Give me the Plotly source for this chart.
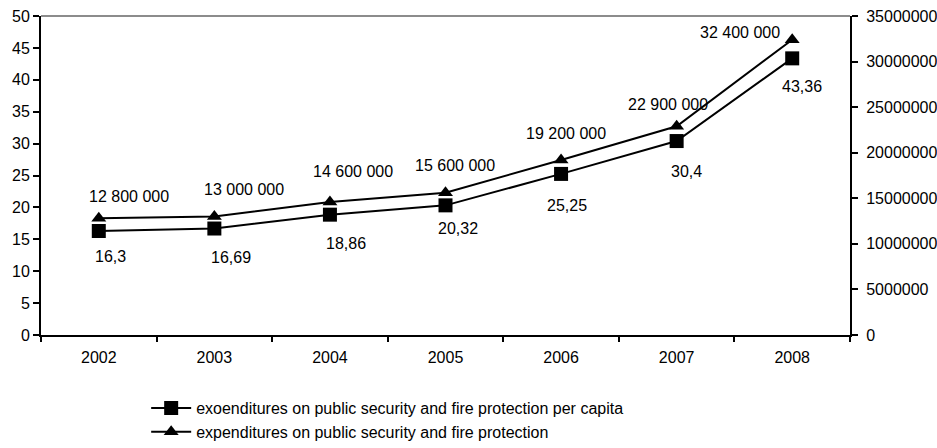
import plotly.graph_objects as go

# Public security and fire protection spending, 2002-2008
years = ["2002", "2003", "2004", "2005", "2006", "2007", "2008"]
per_capita = [16.3, 16.69, 18.86, 20.32, 25.25, 30.4, 43.36]
total = [12800000, 13000000, 14600000, 15600000, 19200000, 22900000, 32400000]

name_per_capita = "exoenditures on public security and fire protection per capita"
name_total = "expenditures on public security and fire protection"

left_ticks = [0, 5, 10, 15, 20, 25, 30, 35, 40, 45, 50]
right_ticks = [0, 5000000, 10000000, 15000000, 20000000, 25000000, 30000000, 35000000]

# label nudges in pixels (x, y) so the value labels sit clear of the lines
per_capita_shift = [(12, -25), (17, -29), (16, -29), (12, -23), (6, -32), (10, -30), (10, -28)]
total_shift = [(30, 22), (30, 27), (23, 30), (9, 27), (5, 27), (-9, 22), (-52, 7)]

FONT = "Liberation Sans, Arial, sans-serif"
BLACK = "#000000"

fig = go.Figure()
fig.add_trace(go.Scatter(
    x=years, y=per_capita, name=name_per_capita, mode="lines+markers",
    line=dict(color=BLACK, width=2),
    marker=dict(symbol="square", size=14, color=BLACK),
    xaxis="x", yaxis="y",
))
fig.add_trace(go.Scatter(
    x=years, y=total, name=name_total, mode="lines+markers",
    line=dict(color=BLACK, width=2),
    marker=dict(symbol="triangle-up", size=13, color=BLACK),
    xaxis="x", yaxis="y2",
))

# annotations on a category axis are placed by category index
annotations = []
for i, (v, (dx, dy)) in enumerate(zip(per_capita, per_capita_shift)):
    annotations.append(dict(
        x=i, y=v, xref="x", yref="y", text=str(v).replace(".", ","),
        showarrow=False, xshift=dx, yshift=dy, xanchor="center", yanchor="middle",
        font=dict(family=FONT, size=16, color=BLACK),
    ))
for i, (v, (dx, dy)) in enumerate(zip(total, total_shift)):
    annotations.append(dict(
        x=i, y=v, xref="x", yref="y2", text=f"{v:,}".replace(",", " "),
        showarrow=False, xshift=dx, yshift=dy, xanchor="center", yanchor="middle",
        font=dict(family=FONT, size=16, color=BLACK),
    ))

axis_common = dict(
    showgrid=False, zeroline=False, showline=True, linecolor=BLACK, linewidth=2,
    tickcolor=BLACK, tickwidth=2, tickfont=dict(family=FONT, size=16, color=BLACK),
    automargin=False,
)

fig.update_layout(
    width=937, height=448,
    margin=dict(l=41, r=87, t=16, b=113, autoexpand=False),
    paper_bgcolor="white", plot_bgcolor="white",
    font=dict(family=FONT, size=16, color=BLACK),
    showlegend=True,
    legend=dict(
        orientation="v", x=0.13, xanchor="left", y=-0.176, yanchor="top",
        font=dict(family=FONT, size=16, color=BLACK), itemwidth=40,
        bgcolor="rgba(0,0,0,0)", tracegroupgap=0,
    ),
    xaxis=dict(
        type="category", categoryorder="array", categoryarray=years,
        range=[-0.5, len(years) - 0.5], tickson="boundaries",
        ticks="outside", ticklen=5, ticklabelstandoff=7, **axis_common,
    ),
    yaxis=dict(
        range=[0, 50], tickmode="array", tickvals=left_ticks,
        ticks="outside", ticklen=6, **axis_common,
    ),
    yaxis2=dict(
        overlaying="y", side="right", anchor="x",
        range=[0, 35000000], tickmode="array", tickvals=right_ticks, tickformat="d",
        ticks="outside", ticklen=6, ticklabelstandoff=5, **axis_common,
    ),
    # inner halves of the crossing tick marks
    xaxis2=dict(
        overlaying="x", anchor="y", side="bottom", range=[-0.5, len(years) - 0.5],
        tick0=-0.5, dtick=1, ticks="inside", ticklen=5, showticklabels=False,
        **axis_common,
    ),
    yaxis3=dict(
        overlaying="y", anchor="x", side="left", range=[0, 50], dtick=5,
        ticks="inside", ticklen=6, showticklabels=False, **axis_common,
    ),
    yaxis4=dict(
        overlaying="y", anchor="x", side="right", range=[0, 35000000], dtick=5000000,
        ticks="inside", ticklen=6, showticklabels=False, **axis_common,
    ),
    shapes=[dict(
        type="line", xref="paper", yref="paper", x0=0, x1=1, y0=1, y1=1,
        line=dict(color="#8c8c8c", width=2), layer="above",
    )],
    annotations=annotations,
)

fig.write_html("out.html")
